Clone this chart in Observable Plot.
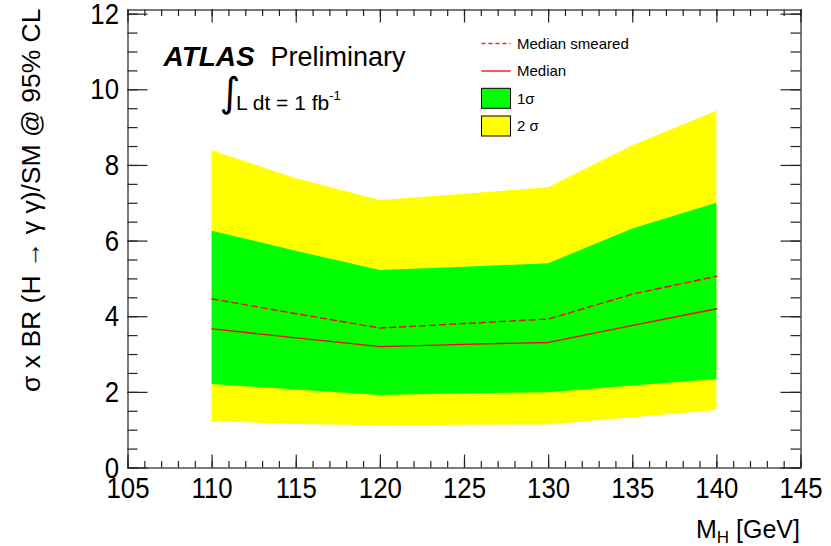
<!DOCTYPE html>
<html><head><meta charset="utf-8">
<script src="https://cdn.jsdelivr.net/npm/d3@7"></script>
<script src="https://cdn.jsdelivr.net/npm/@observablehq/plot@0.6"></script>
<style>body{margin:0;background:#fff}#chart svg{display:block}</style>
</head><body><div id="chart"></div>
<script>
// ---- data ----
const mass      = [110, 115, 120, 125, 130, 135, 140];
const twoSigHi  = [8.39, 7.65, 7.07, 7.24, 7.41, 8.52, 9.43];
const oneSigHi  = [6.26, 5.73, 5.22, 5.31, 5.40, 6.32, 7.00];
const smeared   = [4.47, 4.08, 3.70, 3.82, 3.94, 4.60, 5.07];
const median    = [3.68, 3.44, 3.21, 3.27, 3.32, 3.77, 4.21];
const oneSigLo  = [2.21, 2.06, 1.92, 1.96, 1.99, 2.17, 2.34];
const twoSigLo  = [1.23, 1.15, 1.12, 1.13, 1.14, 1.33, 1.52];

const xMajorTicks = [105, 110, 115, 120, 125, 130, 135, 140, 145];
const xMinorTicks = d3.range(105, 145.01, 1);
const yMajorTicks = [0, 2, 4, 6, 8, 10, 12];
const yMinorTicks = d3.range(0, 12.01, 0.5);

const legendLabels = ["Median smeared", "Median", "1\u03c3", "2 \u03c3"];
const yTitle = "\u03c3 x BR (H \u2192 \u03b3 \u03b3)/SM @ 95% CL";

const rows = mass.map((m, i) => ({
  m, y2hi: twoSigHi[i], y2lo: twoSigLo[i], y1hi: oneSigHi[i], y1lo: oneSigLo[i],
  smeared: smeared[i], median: median[i]
}));

// ---- layout ----
const W = 831, H = 546;
const mL = 127.5, mR = 30.5, mT = 9.5, mB = 78.5;
const fw = W - mL - mR, fh = H - mT - mB;
const axisColor = "#222";
const sans = "'Liberation Sans', Arial, Helvetica, sans-serif";

const chart = Plot.plot({
  width: W, height: H,
  marginLeft: mL, marginRight: mR, marginTop: mT, marginBottom: mB,
  x: {domain: [105, 145], axis: null},
  y: {domain: [0, 12.11], axis: null},
  style: {fontFamily: sans, background: "white", color: "black"},
  marks: [
    Plot.areaY(rows, {x: "m", y1: "y2lo", y2: "y2hi", fill: "#ffff00"}),
    Plot.areaY(rows, {x: "m", y1: "y1lo", y2: "y1hi", fill: "#00ff00"}),
    Plot.lineY(rows, {x: "m", y: "smeared", stroke: "#ff0000", strokeWidth: 1.4, strokeDasharray: "6,4"}),
    Plot.lineY(rows, {x: "m", y: "median", stroke: "#ff0000", strokeWidth: 1.4}),
    Plot.frame({stroke: axisColor, strokeWidth: 1.2}),
    // inward ticks, bottom & top
    Plot.tickX(xMajorTicks, {x: d => d, insetTop: fh - 13, stroke: axisColor, strokeWidth: 1.2}),
    Plot.tickX(xMinorTicks, {x: d => d, insetTop: fh - 6.5, stroke: axisColor, strokeWidth: 1.2}),
    Plot.tickX(xMajorTicks, {x: d => d, insetBottom: fh - 13, stroke: axisColor, strokeWidth: 1.2}),
    Plot.tickX(xMinorTicks, {x: d => d, insetBottom: fh - 6.5, stroke: axisColor, strokeWidth: 1.2}),
    // inward ticks, left & right
    Plot.tickY(yMajorTicks, {y: d => d, insetRight: fw - 20, stroke: axisColor, strokeWidth: 1.2}),
    Plot.tickY(yMinorTicks, {y: d => d, insetRight: fw - 10, stroke: axisColor, strokeWidth: 1.2}),
    Plot.tickY(yMajorTicks, {y: d => d, insetLeft: fw - 20, stroke: axisColor, strokeWidth: 1.2}),
    Plot.tickY(yMinorTicks, {y: d => d, insetLeft: fw - 10, stroke: axisColor, strokeWidth: 1.2}),
    // tick labels
    Plot.axisX(xMajorTicks, {tickSize: 0, tickPadding: 8.5, fontSize: 30, label: null, fill: "black"}),
    Plot.axisY(yMajorTicks, {tickSize: 0, tickPadding: 9, fontSize: 30, label: null, fill: "black"}),
    // y axis title
    Plot.text([yTitle], {text: d => d, frameAnchor: "top-left", dx: 31 - mL, dy: 8 - mT, rotate: -90,
      textAnchor: "end", lineAnchor: "middle", fontSize: 26.5, fill: "black"}),
    // ATLAS label
    Plot.text(["ATLAS"], {text: d => d, frameAnchor: "top-left", dx: 163 - mL, dy: 57 - mT,
      textAnchor: "start", lineAnchor: "middle", fontSize: 28, fontWeight: "bold", fontStyle: "italic", fill: "black"}),
    Plot.text(["Preliminary"], {text: d => d, frameAnchor: "top-left", dx: 270 - mL, dy: 57 - mT,
      textAnchor: "start", lineAnchor: "middle", fontSize: 27, fill: "black"}),
    Plot.text(["\u222b"], {text: d => d, frameAnchor: "top-left", dx: 219 - mL, dy: 93 - mT,
      textAnchor: "start", lineAnchor: "middle", fontSize: 40, fontFamily: "'DejaVu Sans', sans-serif", fill: "black"})
  ]
});

document.getElementById("chart").append(chart);
const svg = d3.select(chart);

// narrow the tick-label digits like the reference's condensed Helvetica
svg.selectAll("g[aria-label='x-axis tick label'] text, g[aria-label='y-axis tick label'] text")
  .each(function() {
    const t = this.getAttribute("transform") || "";
    this.setAttribute("transform", t + " scale(0.86,1)");
  });

// integrated luminosity text with superscript
const lum = svg.append("text").attr("x", 236).attr("y", 110).attr("text-anchor", "start")
  .attr("font-size", 21).attr("fill", "black").attr("font-family", sans);
lum.append("tspan").text("L dt = 1 fb");
lum.append("tspan").attr("dy", -10).attr("font-size", 13).text("-1");

// x axis title with subscript
const xt = svg.append("text").attr("x", 800).attr("y", 538)
  .attr("text-anchor", "end").attr("font-size", 25).attr("fill", "black").attr("font-family", sans);
xt.append("tspan").text("M");
xt.append("tspan").attr("dy", 5).attr("font-size", 17).text("H");
xt.append("tspan").attr("dy", -5).text(" [GeV]");

// legend
const lg = svg.append("g").attr("font-family", sans).attr("font-size", 15).attr("text-anchor", "start");
const lx = 481.5, lw = 29, tx = 517;
const rowY = [43.5, 71, 98.3, 126];
lg.append("line").attr("x1", lx).attr("x2", lx + lw).attr("y1", rowY[0]).attr("y2", rowY[0])
  .attr("stroke", "#ff2020").attr("stroke-width", 1.5).attr("stroke-dasharray", "4,3");
lg.append("line").attr("x1", lx).attr("x2", lx + lw).attr("y1", rowY[1]).attr("y2", rowY[1])
  .attr("stroke", "#ff2020").attr("stroke-width", 1.5);
lg.append("rect").attr("x", lx).attr("y", rowY[2] - 10).attr("width", lw).attr("height", 20)
  .attr("fill", "#00ff00").attr("stroke", "black").attr("stroke-width", 1);
lg.append("rect").attr("x", lx).attr("y", rowY[3] - 10).attr("width", lw).attr("height", 20)
  .attr("fill", "#ffff00").attr("stroke", "black").attr("stroke-width", 1);
legendLabels.forEach((t, i) => {
  lg.append("text").attr("x", tx).attr("y", rowY[i]).attr("dy", "0.35em").attr("fill", "black").text(t);
});
</script>
</body></html>
